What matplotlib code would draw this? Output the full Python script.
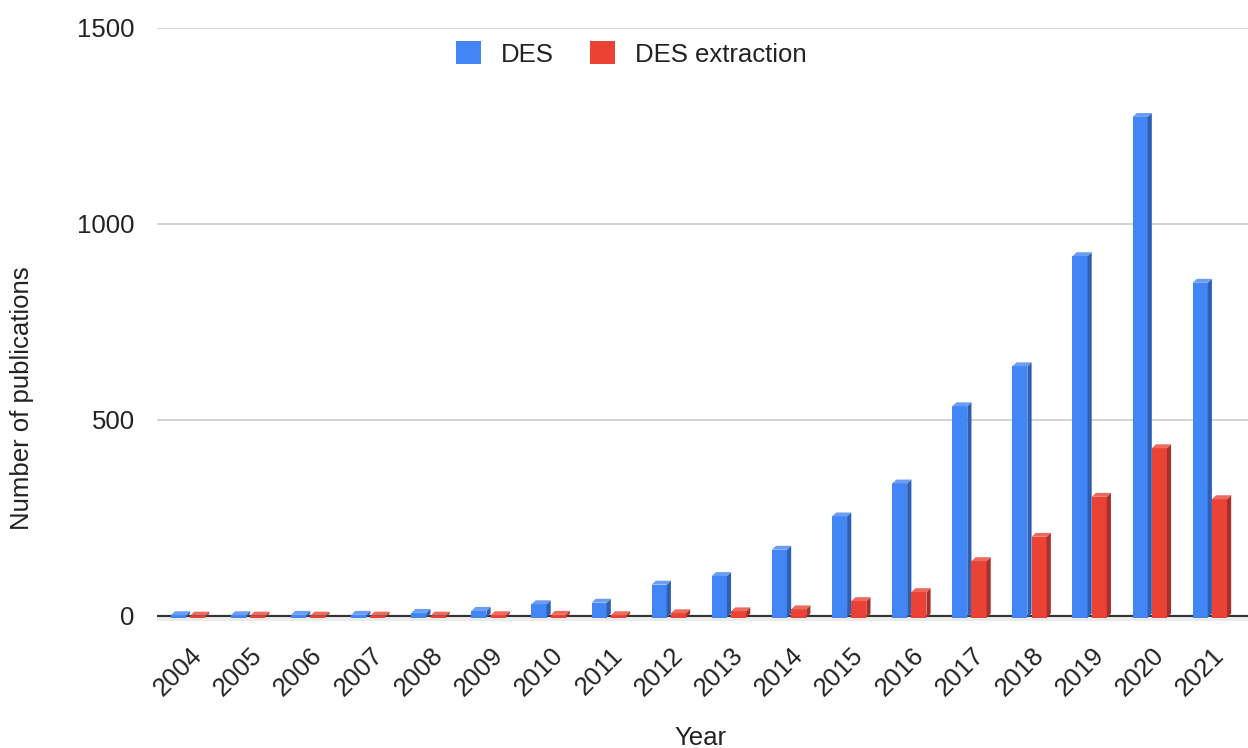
import numpy as np
import matplotlib
matplotlib.use('Agg')
from matplotlib import pyplot as plt
from matplotlib.patches import Polygon, Patch
from matplotlib.transforms import ScaledTranslation

plt.rcParams['font.family'] = ['Liberation Sans', 'DejaVu Sans']

years = ['2004', '2005', '2006', '2007', '2008', '2009', '2010', '2011', '2012',
         '2013', '2014', '2015', '2016', '2017', '2018', '2019', '2020', '2021']
des = [2, 2, 3, 3, 8, 13, 30, 34, 80, 102, 169, 254, 338, 535, 637, 918, 1273, 850]
des_extraction = [1, 1, 1, 1, 1, 2, 3, 2, 7, 12, 17, 38, 61, 140, 202, 304, 428, 298]

series = [('DES', des, '#4285F4', '#2F5FB3', '#6A9EF6'),
          ('DES extraction', des_extraction, '#EA4335', '#A9302A', '#EE6A5E')]

w = 0.25      # front face width
d = 0.07      # depth in x (category units)
dz = 10       # depth in y (data units)
base = -4

fig = plt.figure(figsize=(12.48, 7.48), dpi=100)
ax = fig.add_axes([157 / 1248, 0.1702, 1 - 157 / 1248, 0.7924])

x = np.arange(len(years))

ax.axhspan(-12, base, color='#ebebeb', lw=0, zorder=0)
ax.axhline(0, color='#333333', lw=1.6, zorder=1)
for g in [500, 1000, 1500]:
    ax.axhline(g, color='#cccccc', lw=1.2, zorder=0)

for k, (name, vals, front, side, top) in enumerate(series):
    xs = x - 0.32 + k * (w + d)
    vals = np.array(vals, dtype=float)
    ax.bar(xs, vals - base, bottom=base, width=w, align='edge', color=front,
           lw=0, zorder=3)
    for xl, h in zip(xs, vals):
        ax.add_patch(Polygon([(xl + w, base), (xl + w + d, base + dz),
                              (xl + w + d, h + dz), (xl + w, h)],
                             closed=True, color=side, lw=0, zorder=3))
        ax.add_patch(Polygon([(xl, h), (xl + d, h + dz), (xl + w + d, h + dz),
                              (xl + w, h)], closed=True, color=top, lw=0, zorder=3))

ax.set_xlim(-0.55, 17.6)
ax.set_ylim(-12, 1500)
ax.set_yticks([0, 500, 1000, 1500])
ax.set_yticklabels(['0', '500', '1000', '1500'])
ax.set_xticks(x)
ax.set_xticklabels(years, rotation=45, ha='right', rotation_mode='anchor')
offset = ScaledTranslation(10 / 100, 0, fig.dpi_scale_trans)
for lab in ax.get_xticklabels():
    lab.set_transform(lab.get_transform() + offset)

ax.tick_params(axis='both', length=0, labelsize=18.5, colors='#222222')
ax.tick_params(axis='y', pad=16)
ax.tick_params(axis='x', pad=16)
for s in ax.spines.values():
    s.set_visible(False)

fig.text(0.561, 0.014, 'Year', ha='center', va='center', fontsize=18.5, color='#222222')
fig.text(0.018, 0.468, 'Number of publications', ha='center', va='center',
         rotation=90, fontsize=18.5, color='#222222')

handles = [Patch(facecolor=s[2], edgecolor='none', label=s[0]) for s in series]
fig.legend(handles=handles, loc='center', bbox_to_anchor=(631 / 1248, 1 - 54 / 748),
           ncol=2, frameon=False, fontsize=18.5, handlelength=1.0, handleheight=1.0,
           handletextpad=0.75, columnspacing=1.4, labelcolor='#222222')

fig.savefig('out.png', dpi=100)
